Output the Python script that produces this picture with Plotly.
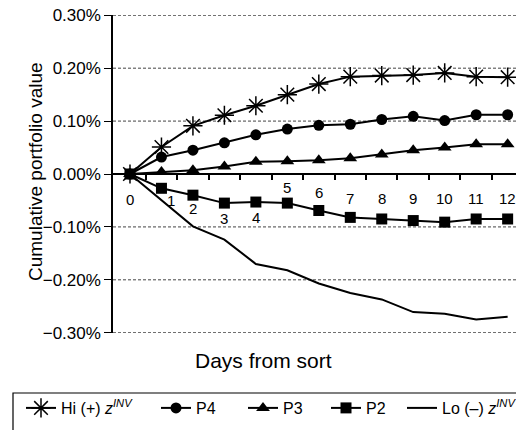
import plotly.graph_objects as go

days = list(range(13))
day_labels = [str(d) for d in days]
hi = [0.0, 0.051, 0.091, 0.111, 0.129, 0.150, 0.170, 0.184, 0.186, 0.187, 0.191, 0.184, 0.183]
p4 = [0.0, 0.032, 0.045, 0.059, 0.074, 0.085, 0.092, 0.094, 0.103, 0.109, 0.101, 0.112, 0.112]
p3 = [0.0, 0.004, 0.007, 0.014, 0.023, 0.024, 0.026, 0.030, 0.037, 0.045, 0.050, 0.056, 0.056]
p2 = [0.0, -0.027, -0.040, -0.055, -0.053, -0.055, -0.069, -0.082, -0.085, -0.088, -0.091, -0.085, -0.085]
lo = [0.0, -0.050, -0.099, -0.124, -0.170, -0.182, -0.207, -0.225, -0.237, -0.261, -0.264, -0.275, -0.270]
y_ticks = [-0.3, -0.2, -0.1, 0.0, 0.1, 0.2, 0.3]
y_tick_labels = ["\u22120.30%", "\u22120.20%", "\u22120.10%", "0.00%", "0.10%", "0.20%", "0.30%"]
series_names = ["Hi (+) <i>z</i><sup><i>INV</i></sup>", "P4", "P3", "P2",
                "Lo (\u2013) <i>z</i><sup><i>INV</i></sup>"]

# label offsets (px) relative to the zero line, as in the original
label_dx = [0, 10, 0, 0, 0, 0, 0, 0, 0, 0, 0, 0, 0]
label_dy = [-25, -26, -34, -44, -43, -13, -18, -24, -24, -24, -24, -24, -24]

FONT = "Liberation Sans, Arial, sans-serif"
OFF = 8  # page body margin offset
W, H = 524, 430
# desired on-screen plot box: x 113..524, y 15..333
L = 113 - OFF
T = 15 - OFF
R = W - (524 - OFF)
B = H - (333 - OFF)
pw, ph = W - L - R, H - T - B

def px_x(p):  # screen x -> paper
    return (p - OFF - L) / pw

def px_y(p):  # screen y -> paper
    return (H - B - (p - OFF)) / ph

fig = go.Figure()
line = dict(color="black", width=2)
markers = [
    dict(symbol="asterisk-open", size=16, color="black", line=dict(color="black", width=1.5)),
    dict(symbol="circle", size=11, color="black"),
    dict(symbol="triangle-up", size=12, color="black"),
    dict(symbol="square", size=11, color="black"),
    None,
]
series = [hi, p4, p3, p2, lo]
legend_ids = ["legend", "legend2", "legend3", "legend4", "legend5"]
legend_centers = [43, 178, 265, 348, 424]  # screen x of legend symbol centres

for vals, name, mk, lid in zip(series, series_names, markers, legend_ids):
    if mk is None:
        fig.add_trace(go.Scatter(x=days, y=vals, mode="lines", name=name, line=line, legend=lid))
    else:
        fig.add_trace(go.Scatter(x=days, y=vals, mode="lines+markers", name=name, line=line,
                                 marker=mk, legend=lid))

annotations = []
for d, lab, dx, dy in zip(days, day_labels, label_dx, label_dy):
    annotations.append(dict(x=d, y=0, xref="x", yref="y", text=lab, showarrow=False,
                            xanchor="center", yanchor="middle",
                            xshift=dx, yshift=dy, font=dict(family=FONT, size=15, color="black")))
annotations.append(dict(x=px_x(263), y=px_y(360), xref="paper", yref="paper", text="Days from sort",
                        xanchor="center", yanchor="middle",
                        showarrow=False, font=dict(family=FONT, size=21, color="black")))
annotations.append(dict(x=px_x(35), y=px_y(172), xref="paper", yref="paper",
                        xanchor="center", yanchor="middle",
                        text="Cumulative portfolio value", textangle=-90, showarrow=False,
                        font=dict(family=FONT, size=19, color="black")))

legend_layout = {}
for lid, cx in zip(legend_ids, legend_centers):
    legend_layout[lid] = dict(orientation="h", x=px_x(cx - 22), y=px_y(408), xanchor="left",
                              yanchor="middle", font=dict(family=FONT, size=16, color="black"),
                              bgcolor="rgba(0,0,0,0)", borderwidth=0)

shapes = [dict(type="line", xref="paper", yref="y", x0=0, x1=1, y0=v, y1=v, layer="below",
               line=dict(color="#444", width=1, dash="3px,2px"))
          for v in y_ticks if v != 0]
shapes.append(dict(type="rect", xref="paper", yref="paper", x0=px_x(13), x1=px_x(540),
                   y0=px_y(393), y1=px_y(445), line=dict(color="black", width=1.2)))

fig.update_layout(
    width=W, height=H,
    margin=dict(l=L, r=R, t=T, b=B, autoexpand=False),
    paper_bgcolor="white", plot_bgcolor="white",
    font=dict(family=FONT, color="black"),
    showlegend=True,
    annotations=annotations,
    shapes=shapes,
    xaxis=dict(range=[-0.54, 12.52], anchor="free", position=0.5, automargin=False,
               showline=True, linecolor="black", linewidth=2,
               ticks="outside", ticklen=5, tickwidth=1.5, tickcolor="black",
               tickvals=[d + 0.5 for d in days], showticklabels=False,
               showgrid=False, zeroline=False),
    yaxis=dict(range=[-0.3005, 0.3005], tickvals=y_ticks, ticktext=y_tick_labels,
               ticklabeloverflow="allow", automargin=False,
               showline=True, linecolor="black", linewidth=1.5,
               ticks="outside", ticklen=7, tickwidth=1.2, tickcolor="black",
               tickfont=dict(family=FONT, size=17, color="black"),
               showgrid=False, zeroline=False),
    **legend_layout,
)

fig.write_html("out.html")
